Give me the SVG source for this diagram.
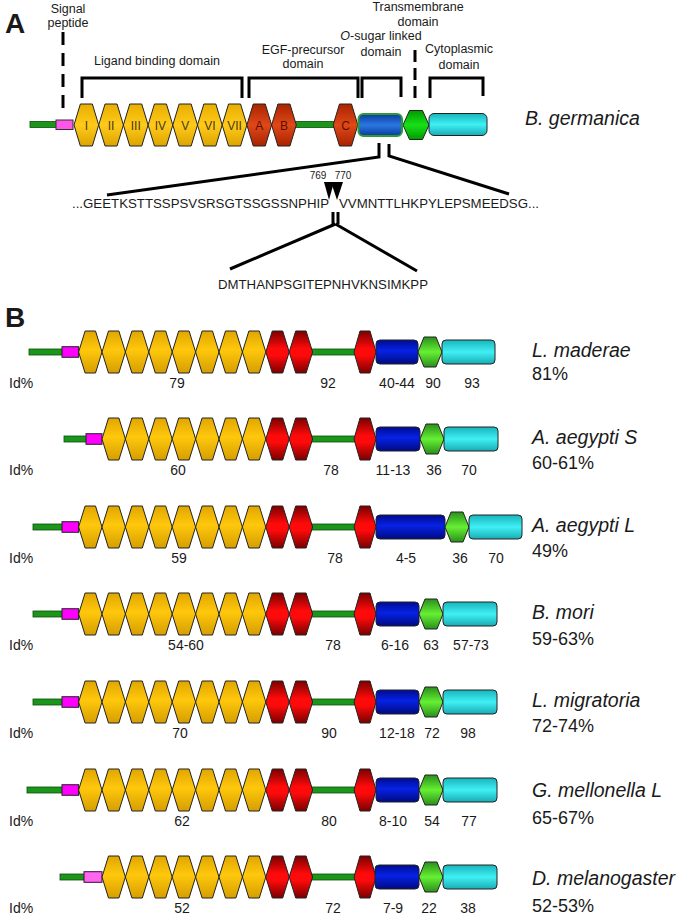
<svg xmlns="http://www.w3.org/2000/svg" xmlns:xlink="http://www.w3.org/1999/xlink" width="685" height="919" viewBox="0 0 685 919">
<style>
text{font-family:"Liberation Sans",Arial,sans-serif;fill:#1a1a1a}
.lbl{font-size:12.5px;text-anchor:middle}
.num{font-size:14px;text-anchor:middle}
.id{font-size:14px}
.sp{font-size:19.5px;font-style:italic}
.pct{font-size:18px}
.big{font-size:28px;font-weight:bold}
.rn{font-size:12px;text-anchor:middle;fill:#4a3a10}
.rl{font-size:12px;text-anchor:middle;fill:#5a1000}
.seq{font-size:12.5px}
.brk{fill:none;stroke:#000;stroke-width:3}
.dash{fill:none;stroke:#000;stroke-width:3}
.ln{fill:#1b961b;stroke:#0b4d0b;stroke-width:0.8}
.pk{fill:#ff00ff;stroke:#222;stroke-width:1}
.ol{stroke:#222;stroke-width:1}
</style>
<defs>
<linearGradient id="gY" x1="0" y1="0" x2="0" y2="1"><stop offset="0" stop-color="#e0a600"/><stop offset="0.45" stop-color="#ffc80c"/><stop offset="1" stop-color="#d69e00"/></linearGradient>
<linearGradient id="gR" x1="0" y1="0" x2="0" y2="1"><stop offset="0" stop-color="#7a0000"/><stop offset="0.42" stop-color="#ff0a0a"/><stop offset="0.58" stop-color="#ff0a0a"/><stop offset="1" stop-color="#7a0000"/></linearGradient>
<linearGradient id="gB" x1="0" y1="0" x2="0" y2="1"><stop offset="0" stop-color="#000c90"/><stop offset="0.45" stop-color="#0622e6"/><stop offset="1" stop-color="#000a80"/></linearGradient>
<linearGradient id="gG" x1="0" y1="0" x2="0" y2="1"><stop offset="0" stop-color="#2a8f1a"/><stop offset="0.5" stop-color="#66f033"/><stop offset="1" stop-color="#2a8f1a"/></linearGradient>
<linearGradient id="gC" x1="0" y1="0" x2="0" y2="1"><stop offset="0" stop-color="#18b4bc"/><stop offset="0.5" stop-color="#40f0f4"/><stop offset="1" stop-color="#18acb4"/></linearGradient>
<linearGradient id="gYA" x1="0" y1="0" x2="0" y2="1"><stop offset="0" stop-color="#e8ae00"/><stop offset="0.5" stop-color="#ffca1a"/><stop offset="1" stop-color="#dca400"/></linearGradient>
<linearGradient id="gRA" x1="0" y1="0" x2="0" y2="1"><stop offset="0" stop-color="#a82400"/><stop offset="0.5" stop-color="#e04818"/><stop offset="1" stop-color="#a82400"/></linearGradient>
<linearGradient id="gBA" x1="0" y1="0" x2="0" y2="1"><stop offset="0" stop-color="#0a3aa0"/><stop offset="0.5" stop-color="#2a78e0"/><stop offset="1" stop-color="#0a3aa0"/></linearGradient>
<linearGradient id="gGA" x1="0" y1="0" x2="0" y2="1"><stop offset="0" stop-color="#009a00"/><stop offset="0.5" stop-color="#18e018"/><stop offset="1" stop-color="#009a00"/></linearGradient>
<polygon id="hx" points="-11.7,0 -5.2,-21 5.2,-21 11.7,0 5.2,21 -5.2,21"/>
<polygon id="hc" points="-11,0 -5,-21 5,-21 11,0 5,21 -5,21"/>
<polygon id="hg" points="-12,0 -6,-15 6,-15 12,0 6,15 -6,15"/>
<polygon id="hxa" points="-12.35,0 -6,-21 6,-21 12.35,0 6,21 -6,21"/>
<polygon id="hga" points="-13,0 -6.5,-14.5 6.5,-14.5 13,0 6.5,14.5 -6.5,14.5"/>
</defs>
<rect width="685" height="919" fill="#fff"/>

<text class="big" x="5" y="33">A</text>
<text class="big" x="5" y="327">B</text>

<g id="domain-labels">
<text class="lbl" x="68" y="13">Signal</text>
<text class="lbl" x="68" y="26.5">peptide</text>
<text class="lbl" x="157" y="65">Ligand binding domain</text>
<text class="lbl" x="303" y="54">EGF-precursor</text>
<text class="lbl" x="303" y="67.5">domain</text>
<text class="lbl" x="381" y="40"><tspan font-style="italic">O</tspan>-sugar linked</text>
<text class="lbl" x="381" y="55.5">domain</text>
<text class="lbl" x="418" y="10.5">Transmembrane</text>
<text class="lbl" x="418" y="25.5">domain</text>
<text class="lbl" x="459" y="53">Cytoplasmic</text>
<text class="lbl" x="459" y="68.5">domain</text>
</g>

<g id="connectors">
<line class="dash" x1="63" y1="32" x2="63" y2="111" stroke-dasharray="13,8"/>
<line class="dash" x1="415" y1="50" x2="415" y2="100" stroke-dasharray="12,6"/>
<path class="brk" d="M82,98 V78 H242 V98"/>
<path class="brk" d="M249,98 V78 H358 V98"/>
<path class="brk" d="M362,98 V78 H401 V97"/>
<path class="brk" d="M430,98 V78 H483 V96"/>
<path class="brk" d="M379,143 V157 L107,195"/>
<path class="brk" d="M389,144 V156 L509,194"/>
<path class="brk" d="M333,212 V224"/>
<path class="brk" d="M338,212 V224"/>
<path class="brk" d="M335.5,224 L230,269 M335.5,224 L417,271"/>
</g>

<g id="bgermanica">
<rect class="ln" x="30" y="121.5" width="27" height="6"/>
<rect x="56" y="120" width="17" height="9.5" fill="#ff55e8" stroke="#333" stroke-width="1"/>
<rect class="ln" x="294" y="121.5" width="42" height="6"/>
<g class="ol">
<use xlink:href="#hxa" x="86.35" y="125" fill="url(#gYA)"/>
<use xlink:href="#hxa" x="111.05" y="125" fill="url(#gYA)"/>
<use xlink:href="#hxa" x="135.75" y="125" fill="url(#gYA)"/>
<use xlink:href="#hxa" x="160.45" y="125" fill="url(#gYA)"/>
<use xlink:href="#hxa" x="185.15" y="125" fill="url(#gYA)"/>
<use xlink:href="#hxa" x="209.85" y="125" fill="url(#gYA)"/>
<use xlink:href="#hxa" x="234.55" y="125" fill="url(#gYA)"/>
<use xlink:href="#hxa" x="259.25" y="125" fill="url(#gRA)"/>
<use xlink:href="#hxa" x="283.95" y="125" fill="url(#gRA)"/>
<use xlink:href="#hxa" x="345.5" y="125" fill="url(#gRA)"/>
<use xlink:href="#hga" x="416" y="125" fill="url(#gGA)"/>
</g>
<rect x="358.5" y="114" width="43.5" height="22" rx="5" fill="url(#gBA)" stroke="#2f9a2f" stroke-width="2"/>
<rect x="429" y="113.5" width="58" height="22" rx="5" fill="url(#gC)" stroke="#222" stroke-width="1"/>
<text class="rn" x="86.35" y="129.5">I</text>
<text class="rn" x="111.05" y="129.5">II</text>
<text class="rn" x="135.75" y="129.5">III</text>
<text class="rn" x="160.45" y="129.5">IV</text>
<text class="rn" x="185.15" y="129.5">V</text>
<text class="rn" x="209.85" y="129.5">VI</text>
<text class="rn" x="234.55" y="129.5">VII</text>
<text class="rl" x="259.25" y="129.5">A</text>
<text class="rl" x="283.95" y="129.5">B</text>
<text class="rl" x="345.5" y="129.5">C</text>
<text class="sp" x="525" y="125">B. germanica</text>
</g>

<g id="sequence">
<text x="318" y="179" font-size="10" text-anchor="middle">769</text>
<text x="343" y="179" font-size="10" text-anchor="middle">770</text>
<polygon points="324,182 334,182 329,200" fill="#000"/>
<polygon points="331,182 343,182 337,200" fill="#000"/>
<text class="seq" x="72" y="208" textLength="257" lengthAdjust="spacingAndGlyphs">...GEETKSTTSSPSVSRSGTSSGSSNPHIP</text>
<text class="seq" x="339" y="208" textLength="200" lengthAdjust="spacingAndGlyphs">VVMNTTLHKPYLEPSMEEDSG...</text>
<text class="seq" x="218" y="289" textLength="210" lengthAdjust="spacingAndGlyphs">DMTHANPSGITEPNHVKNSIMKPP</text>
</g>

<g id="row-lmaderae" transform="translate(0,352)">
<rect class="ln" x="29" y="-3" width="34" height="6"/>
<rect class="ln" x="311" y="-3" width="44" height="6"/>
<rect class="pk" x="62" y="-5.3" width="16.6" height="10.6"/>
<g class="ol">
<use xlink:href="#hx" x="90.3" fill="url(#gY)"/><use xlink:href="#hx" x="113.7" fill="url(#gY)"/><use xlink:href="#hx" x="137.1" fill="url(#gY)"/><use xlink:href="#hx" x="160.5" fill="url(#gY)"/><use xlink:href="#hx" x="183.9" fill="url(#gY)"/><use xlink:href="#hx" x="207.3" fill="url(#gY)"/><use xlink:href="#hx" x="230.7" fill="url(#gY)"/><use xlink:href="#hx" x="254.1" fill="url(#gY)"/>
<use xlink:href="#hx" x="277.5" fill="url(#gR)"/><use xlink:href="#hx" x="300.9" fill="url(#gR)"/>
<use xlink:href="#hc" x="365" fill="url(#gR)"/>
<rect x="376" y="-12" width="42" height="24" rx="4" fill="url(#gB)"/>
<use xlink:href="#hg" x="430" fill="url(#gG)"/>
<rect x="442" y="-12" width="53" height="24" rx="4" fill="url(#gC)"/>
</g>
<text class="id" x="9" y="36">Id%</text>
<text class="num" x="177" y="36">79</text><text class="num" x="328" y="36">92</text><text class="num" x="397" y="36">40-44</text><text class="num" x="433" y="36">90</text><text class="num" x="472" y="36">93</text>
<text class="sp" x="532" y="5">L. maderae</text>
<text class="pct" x="532" y="28">81%</text>
</g>

<g id="row-aaegyptiS" transform="translate(0,439)">
<rect class="ln" x="64" y="-3" width="23" height="6"/>
<rect class="ln" x="311" y="-3" width="44" height="6"/>
<rect class="pk" x="86" y="-5.3" width="16" height="10.6"/>
<g class="ol">
<use xlink:href="#hx" x="113.7" fill="url(#gY)"/><use xlink:href="#hx" x="137.1" fill="url(#gY)"/><use xlink:href="#hx" x="160.5" fill="url(#gY)"/><use xlink:href="#hx" x="183.9" fill="url(#gY)"/><use xlink:href="#hx" x="207.3" fill="url(#gY)"/><use xlink:href="#hx" x="230.7" fill="url(#gY)"/><use xlink:href="#hx" x="254.1" fill="url(#gY)"/>
<use xlink:href="#hx" x="277.5" fill="url(#gR)"/><use xlink:href="#hx" x="300.9" fill="url(#gR)"/>
<use xlink:href="#hc" x="365" fill="url(#gR)"/>
<rect x="376" y="-12" width="44" height="24" rx="4" fill="url(#gB)"/>
<use xlink:href="#hg" x="432" fill="url(#gG)"/>
<rect x="444" y="-12" width="54" height="24" rx="4" fill="url(#gC)"/>
</g>
<text class="id" x="9" y="36">Id%</text>
<text class="num" x="178" y="36">60</text><text class="num" x="331" y="36">78</text><text class="num" x="393" y="36">11-13</text><text class="num" x="434" y="36">36</text><text class="num" x="469" y="36">70</text>
<text class="sp" x="532" y="5">A. aegypti S</text>
<text class="pct" x="532" y="30">60-61%</text>
</g>

<g id="row-aaegyptiL" transform="translate(0,527)">
<rect class="ln" x="33" y="-3" width="30" height="6"/>
<rect class="ln" x="311" y="-3" width="44" height="6"/>
<rect class="pk" x="62" y="-5.3" width="16.6" height="10.6"/>
<g class="ol">
<use xlink:href="#hx" x="90.3" fill="url(#gY)"/><use xlink:href="#hx" x="113.7" fill="url(#gY)"/><use xlink:href="#hx" x="137.1" fill="url(#gY)"/><use xlink:href="#hx" x="160.5" fill="url(#gY)"/><use xlink:href="#hx" x="183.9" fill="url(#gY)"/><use xlink:href="#hx" x="207.3" fill="url(#gY)"/><use xlink:href="#hx" x="230.7" fill="url(#gY)"/><use xlink:href="#hx" x="254.1" fill="url(#gY)"/>
<use xlink:href="#hx" x="277.5" fill="url(#gR)"/><use xlink:href="#hx" x="300.9" fill="url(#gR)"/>
<use xlink:href="#hc" x="365" fill="url(#gR)"/>
<rect x="376" y="-12" width="69" height="24" rx="4" fill="url(#gB)"/>
<use xlink:href="#hg" x="457" fill="url(#gG)"/>
<rect x="469" y="-12" width="53" height="24" rx="4" fill="url(#gC)"/>
</g>
<text class="id" x="9" y="36">Id%</text>
<text class="num" x="179" y="36">59</text><text class="num" x="335" y="36">78</text><text class="num" x="406" y="36">4-5</text><text class="num" x="460" y="36">36</text><text class="num" x="496" y="36">70</text>
<text class="sp" x="532" y="5">A. aegypti L</text>
<text class="pct" x="532" y="30">49%</text>
</g>

<g id="row-bmori" transform="translate(0,614)">
<rect class="ln" x="33" y="-3" width="30" height="6"/>
<rect class="ln" x="311" y="-3" width="44" height="6"/>
<rect class="pk" x="62" y="-5.3" width="16.6" height="10.6"/>
<g class="ol">
<use xlink:href="#hx" x="90.3" fill="url(#gY)"/><use xlink:href="#hx" x="113.7" fill="url(#gY)"/><use xlink:href="#hx" x="137.1" fill="url(#gY)"/><use xlink:href="#hx" x="160.5" fill="url(#gY)"/><use xlink:href="#hx" x="183.9" fill="url(#gY)"/><use xlink:href="#hx" x="207.3" fill="url(#gY)"/><use xlink:href="#hx" x="230.7" fill="url(#gY)"/><use xlink:href="#hx" x="254.1" fill="url(#gY)"/>
<use xlink:href="#hx" x="277.5" fill="url(#gR)"/><use xlink:href="#hx" x="300.9" fill="url(#gR)"/>
<use xlink:href="#hc" x="365" fill="url(#gR)"/>
<rect x="376" y="-12" width="43" height="24" rx="4" fill="url(#gB)"/>
<use xlink:href="#hg" x="431" fill="url(#gG)"/>
<rect x="443" y="-12" width="54" height="24" rx="4" fill="url(#gC)"/>
</g>
<text class="id" x="9" y="36">Id%</text>
<text class="num" x="186" y="36">54-60</text><text class="num" x="333" y="36">78</text><text class="num" x="395" y="36">6-16</text><text class="num" x="431" y="36">63</text><text class="num" x="471" y="36">57-73</text>
<text class="sp" x="532" y="5">B. mori</text>
<text class="pct" x="532" y="31">59-63%</text>
</g>

<g id="row-lmigratoria" transform="translate(0,702)">
<rect class="ln" x="33" y="-3" width="30" height="6"/>
<rect class="ln" x="311" y="-3" width="44" height="6"/>
<rect class="pk" x="62" y="-5.3" width="16.6" height="10.6"/>
<g class="ol">
<use xlink:href="#hx" x="90.3" fill="url(#gY)"/><use xlink:href="#hx" x="113.7" fill="url(#gY)"/><use xlink:href="#hx" x="137.1" fill="url(#gY)"/><use xlink:href="#hx" x="160.5" fill="url(#gY)"/><use xlink:href="#hx" x="183.9" fill="url(#gY)"/><use xlink:href="#hx" x="207.3" fill="url(#gY)"/><use xlink:href="#hx" x="230.7" fill="url(#gY)"/><use xlink:href="#hx" x="254.1" fill="url(#gY)"/>
<use xlink:href="#hx" x="277.5" fill="url(#gR)"/><use xlink:href="#hx" x="300.9" fill="url(#gR)"/>
<use xlink:href="#hc" x="365" fill="url(#gR)"/>
<rect x="376" y="-12" width="43" height="24" rx="4" fill="url(#gB)"/>
<use xlink:href="#hg" x="431" fill="url(#gG)"/>
<rect x="443" y="-12" width="54" height="24" rx="4" fill="url(#gC)"/>
</g>
<text class="id" x="9" y="36">Id%</text>
<text class="num" x="180" y="36">70</text><text class="num" x="329" y="36">90</text><text class="num" x="397" y="36">12-18</text><text class="num" x="432" y="36">72</text><text class="num" x="468" y="36">98</text>
<text class="sp" x="532" y="5">L. migratoria</text>
<text class="pct" x="532" y="30">72-74%</text>
</g>

<g id="row-gmellonella" transform="translate(0,790)">
<rect class="ln" x="27" y="-3" width="36" height="6"/>
<rect class="ln" x="311" y="-3" width="44" height="6"/>
<rect class="pk" x="62" y="-5.3" width="16.6" height="10.6"/>
<g class="ol">
<use xlink:href="#hx" x="90.3" fill="url(#gY)"/><use xlink:href="#hx" x="113.7" fill="url(#gY)"/><use xlink:href="#hx" x="137.1" fill="url(#gY)"/><use xlink:href="#hx" x="160.5" fill="url(#gY)"/><use xlink:href="#hx" x="183.9" fill="url(#gY)"/><use xlink:href="#hx" x="207.3" fill="url(#gY)"/><use xlink:href="#hx" x="230.7" fill="url(#gY)"/><use xlink:href="#hx" x="254.1" fill="url(#gY)"/>
<use xlink:href="#hx" x="277.5" fill="url(#gR)"/><use xlink:href="#hx" x="300.9" fill="url(#gR)"/>
<use xlink:href="#hc" x="365" fill="url(#gR)"/>
<rect x="376" y="-12" width="43" height="24" rx="4" fill="url(#gB)"/>
<use xlink:href="#hg" x="431" fill="url(#gG)"/>
<rect x="443" y="-12" width="54" height="24" rx="4" fill="url(#gC)"/>
</g>
<text class="id" x="9" y="36">Id%</text>
<text class="num" x="182" y="36">62</text><text class="num" x="329" y="36">80</text><text class="num" x="393" y="36">8-10</text><text class="num" x="432" y="36">54</text><text class="num" x="469" y="36">77</text>
<text class="sp" x="532" y="7">G. mellonella L</text>
<text class="pct" x="532" y="34">65-67%</text>
</g>

<g id="row-dmelanogaster" transform="translate(0,877)">
<rect class="ln" x="60" y="-3" width="25" height="6"/>
<rect class="ln" x="311" y="-3" width="44" height="6"/>
<rect x="84" y="-5.3" width="18" height="10.6" fill="#ff66ee" stroke="#3a0a3a" stroke-width="1"/>
<g class="ol">
<use xlink:href="#hx" x="113.7" fill="url(#gY)"/><use xlink:href="#hx" x="137.1" fill="url(#gY)"/><use xlink:href="#hx" x="160.5" fill="url(#gY)"/><use xlink:href="#hx" x="183.9" fill="url(#gY)"/><use xlink:href="#hx" x="207.3" fill="url(#gY)"/><use xlink:href="#hx" x="230.7" fill="url(#gY)"/><use xlink:href="#hx" x="254.1" fill="url(#gY)"/>
<use xlink:href="#hx" x="277.5" fill="url(#gR)"/><use xlink:href="#hx" x="300.9" fill="url(#gR)"/>
<use xlink:href="#hc" x="365" fill="url(#gR)"/>
<rect x="375" y="-12" width="44" height="24" rx="4" fill="url(#gB)"/>
<use xlink:href="#hg" x="431" fill="url(#gG)"/>
<rect x="443" y="-12" width="54" height="24" rx="4" fill="url(#gC)"/>
</g>
<text class="id" x="9" y="36">Id%</text>
<text class="num" x="182" y="36">52</text><text class="num" x="333" y="36">72</text><text class="num" x="393" y="36">7-9</text><text class="num" x="429" y="36">22</text><text class="num" x="468" y="36">38</text>
<text class="sp" x="532" y="8">D. melanogaster</text>
<text class="pct" x="532" y="35">52-53%</text>
</g>
</svg>
